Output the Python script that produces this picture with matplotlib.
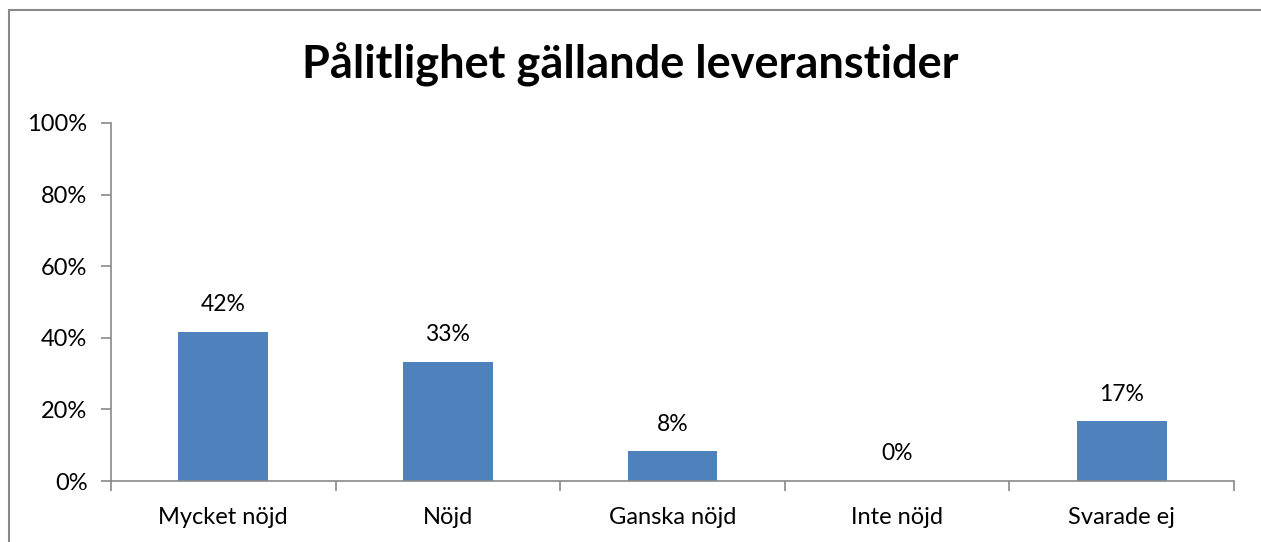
import matplotlib.pyplot as plt
from matplotlib.patches import Rectangle
from matplotlib.ticker import PercentFormatter

categories = ["Mycket nöjd", "Nöjd", "Ganska nöjd", "Inte nöjd", "Svarade ej"]
values = [41.67, 33.33, 8.33, 0.0, 16.67]
labels = ["42%", "33%", "8%", "0%", "17%"]
yticks = [0, 20, 40, 60, 80, 100]

plt.rcParams['font.family'] = ['Lato', 'DejaVu Sans']

fig = plt.figure(figsize=(12.61, 5.42), dpi=100)
ax = fig.add_axes([111 / 1261, 61 / 542, 1123 / 1261, 358 / 542])

# chart area border, like the spreadsheet export
fig.patches.append(Rectangle((9 / 1261, -0.01), 1.0, 1 - 10 / 542 + 0.01,
                             transform=fig.transFigure, fill=False,
                             edgecolor="#898989", linewidth=1.5))

x = list(range(len(categories)))
ax.bar(x, values, width=0.4, color="#4F81BD")
for xi, v, lab in zip(x, values, labels):
    ax.annotate(lab, (xi, v), xytext=(0, 12), textcoords="offset points",
                ha="center", va="bottom", fontsize=16.5)

ax.set_xlim(-0.5, len(categories) - 0.5)
ax.set_ylim(0, 100)
ax.set_yticks(yticks)
ax.yaxis.set_major_formatter(PercentFormatter(decimals=0))
ax.set_xticks(x)
ax.set_xticklabels(categories, fontsize=17)
ax.set_xticks([i - 0.5 for i in range(len(categories) + 1)], minor=True)
ax.tick_params(axis="x", which="major", length=0, pad=19)
ax.tick_params(axis="x", which="minor", length=7, width=1.2, color="#898989")
ax.tick_params(axis="y", length=7, width=1.2, color="#898989", labelsize=17, pad=10)

for s in ["top", "right"]:
    ax.spines[s].set_visible(False)
for s in ["left", "bottom"]:
    ax.spines[s].set_color("#898989")
    ax.spines[s].set_linewidth(1.2)

fig.text(0.5, 1 - 65 / 542, "Pålitlighet gällande leveranstider", ha="center",
         va="center", fontsize=32.5, fontweight="bold")

fig.savefig("out.png", dpi=100)
